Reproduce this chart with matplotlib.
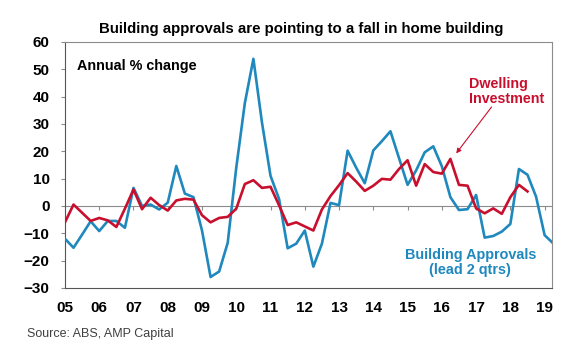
import numpy as np
import matplotlib
matplotlib.use('Agg')
import matplotlib.pyplot as plt

plt.rcParams['font.family'] = ['Liberation Sans', 'DejaVu Sans']

# quarterly series, first point = 2005 Q1 (year start)
START_YEAR = 2005

approvals = [-12, -15.3, -10.5, -5.6, -9.2, -5.5, -5.5, -8, 6.6, 0, 0.5, -1.3,
             1.2, 14.6, 4.5, 3.2, -9, -26, -24, -13.5, 14, 37.6, 53.8, 30.5,
             11, 2.5, -15.5, -13.8, -9, -22.2, -13.8, 1.1, 0.3, 20.2, 14, 8.3,
             20.3, 23.7, 27.3, 17.5, 7.7, 13, 19.6, 21.8, 14.5, 3.2, -1.5, -1.2,
             4, -11.6, -11, -9.4, -6.6, 13.5, 11.4, 3.4, -10.7, -13.7]

dwelling = [-6, 0.5, -2.5, -5.5, -4.4, -5.3, -7.7, -1, 6, -1.2, 3, 0.3,
            -1.7, 2, 2.6, 2.3, -3.4, -6, -4.4, -4, -1, 8, 9.4, 6.6,
            7, 0.2, -7, -6, -7.5, -9, -1.3, 3.6, 7.6, 12, 8.9, 5.5,
            7.4, 9.9, 9.6, 13.5, 16.7, 7.4, 15.3, 12.4, 11.8, 17.2, 7.7, 7.4,
            -0.9, -2.7, -0.9, -2.9, 3.2, 7.7, 5.3]

years = list(range(2005, 2020))
year_labels = ['%02d' % (y % 100) for y in years]

BLUE = '#1f88bd'
RED = '#c8102e'
GREY = '#8c8c8c'
DARK = '#555555'

t_app = START_YEAR + np.arange(len(approvals)) / 4.0
t_dwl = START_YEAR + np.arange(len(dwelling)) / 4.0

fig = plt.figure(figsize=(5.8, 3.52), dpi=100)
ax = fig.add_axes([0.112, 0.182, 0.840, 0.699])

ax.axhline(0, color=GREY, lw=0.8, zorder=1)
ax.plot(t_app, approvals, color=BLUE, lw=1.9, zorder=3)
ax.plot(t_dwl, dwelling, color=RED, lw=1.9, zorder=4)

ax.set_xlim(2005, 2019.22)
ax.set_ylim(-30, 60)
ax.set_yticks(range(-30, 61, 10))
ax.set_xticks(years)
ax.set_xticklabels(year_labels)
ax.tick_params(axis='y', direction='out', length=3, color=GREY, width=0.8,
               labelsize=11, pad=8)
ax.tick_params(axis='x', length=0, labelsize=11, pad=9.5)
for lab in ax.get_xticklabels() + ax.get_yticklabels():
    lab.set_fontweight('bold')
for name, sp in ax.spines.items():
    sp.set_color(DARK if name in ('left', 'bottom') else GREY)
    sp.set_linewidth(0.8)

# small year ticks hanging off the zero line
zero_ax = ax.secondary_xaxis(1 / 3.0)
zero_ax.set_xticks(years[1:])
zero_ax.tick_params(direction='out', length=3, color=GREY, width=0.8,
                    labelbottom=False, labeltop=False)
zero_ax.spines['bottom'].set_visible(False)
zero_ax.spines['top'].set_visible(False)

ax.text(0.025, 0.93, 'Annual % change', transform=ax.transAxes, fontsize=10.4,
        fontweight='bold', va='top', ha='left')
ax.text(2016.78, 42, 'Dwelling\nInvestment', color=RED, fontsize=10.3,
        fontweight='bold', ha='left', va='center', linespacing=1.1)
ax.text(2016.83, -20.7, 'Building Approvals\n(lead 2 qtrs)', color=BLUE,
        fontsize=10.4, fontweight='bold', ha='center', va='center',
        linespacing=1.1)
ax.annotate('', xy=(2016.37, 18.4), xytext=(2017.5, 37),
            arrowprops=dict(arrowstyle='-|>', color=RED, lw=0.8,
                            mutation_scale=7))

fig.text(0.519, 0.918, 'Building approvals are pointing to a fall in home building',
         ha='center', va='center', fontsize=10.8, fontweight='bold')
fig.text(0.046, 0.051, 'Source: ABS, AMP Capital', ha='left', va='center',
         fontsize=9, color='#404040')

fig.savefig('out.png', dpi=100)
